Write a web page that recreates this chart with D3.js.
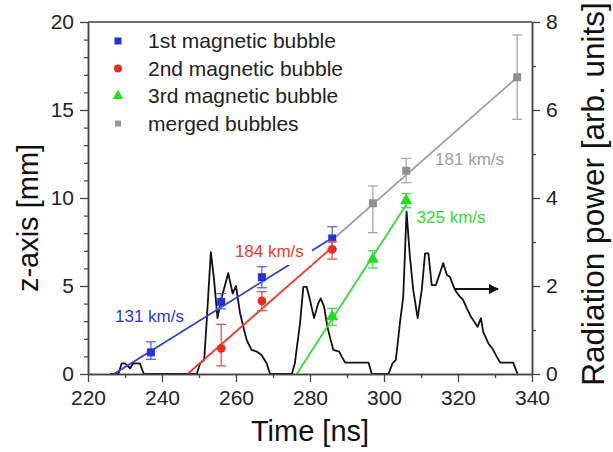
<!DOCTYPE html>
<html>
<head>
<meta charset="utf-8">
<script src="https://cdn.jsdelivr.net/npm/d3@7"></script>
<style>
  body { margin: 0; background: #fff; }
  svg text { font-family: "Liberation Sans", Arial, sans-serif; }
</style>
</head>
<body>
<svg id="chart" width="613" height="452"></svg>
<script>
// bubble positions (time in ns, z in mm, asymmetric error bars)
const blueT = [237, 256, 267, 286];
const blueZ = [1.23, 4.1, 5.5, 7.7];
const blueLo = [0.4, 0.4, 0.6, 0.6];
const blueHi = [0.6, 0.47, 0.6, 0.67];

const redT = [256, 267, 286];
const redZ = [1.46, 4.15, 7.08];
const redLo = [1.0, 0.55, 0.55];
const redHi = [1.36, 0.53, 0.45];

const greenT = [286, 297, 306];
const greenZ = [3.26, 6.52, 9.85];
const greenLo = [0.5, 0.5, 0.4];
const greenHi = [0.47, 0.48, 0.4];

const grayT = [297, 306, 336];
const grayZ = [9.7, 11.55, 16.86];
const grayLo = [1.67, 0.68, 2.39];
const grayHi = [0.98, 0.7, 2.4];

// linear fits, end points [t, z]
const blueFit = [[227, 0], [286, 7.73]];
const redFit = [[246.9, 0], [286, 7.2]];
const greenFit = [[276.4, 0], [306, 9.62]];
const grayFit = [[285.4, 7.5], [336, 16.86]];

// radiation power trace (right axis)
const radTime = [226, 228.2, 229.1, 230, 231.4, 232.2, 234.0, 235.1, 249.4, 250.3, 251.4, 252.1, 253.2, 254.0,
  255.0, 256.0, 257.9, 259.1, 260.0, 261.1, 262.0, 262.9, 264.2, 265.6, 266.9, 268.3, 269.2, 275.1, 275.9,
  277.3, 278.2, 279.1, 280.0, 281.1, 282.2, 282.9, 283.8, 284.7, 285.6, 286.3, 287.9, 288.6, 289.5, 295.8,
  296.7, 301.2, 302.3, 303.2, 304.3, 305.2, 306.1, 307.0, 307.9, 309.1, 310.2, 311.1, 312.0, 312.9, 314.0,
  315.1, 316.0, 317.0, 317.8, 319.2, 320.1, 321.4, 322.4, 323.5, 324.4, 325.3, 326.2, 326.8, 328.2, 329.5,
  330.5, 331.4, 334.9, 336.1];
const radPower = [0, 0, 0.24, 0.24, 0.13, 0.24, 0.24, 0, 0, 0.24, 0.32, 1.23, 2.77, 2.2,
  1.27, 1.7, 2.29, 1.83, 2.0, 1.38, 1.07, 0.77, 0.55, 0.51, 0.43, 0.24, 0, 0, 0.24,
  1.15, 1.98, 1.98, 1.68, 1.27, 1.6, 1.72, 1.53, 1.07, 0.77, 0.55, 0.51, 0.39, 0.26, 0.26,
  0, 0, 0.24, 0.32, 1.15, 1.76, 3.69, 2.67, 1.91, 1.27, 1.91, 2.74, 2.74, 2.02, 2.02,
  2.29, 2.52, 2.25, 2.21, 1.91, 1.8, 1.68, 1.49, 1.30, 1.19, 1.07, 1.27, 0.96, 0.7, 0.55,
  0.39, 0.26, 0.26, 0];

const arrowTime = [319.1, 330.8];
const arrowPower = 1.93;

const legendLabels = ['1st magnetic bubble', '2nd magnetic bubble', '3rd magnetic bubble', 'merged bubbles'];
const speedLabels = ['131 km/s', '184 km/s', '325 km/s', '181 km/s'];
const speedPos = [[227.3, 2.95], [259.7, 6.65], [308.8, 8.58], [313.8, 11.85]]; // label start [t, z]

const xTicks = [220, 240, 260, 280, 300, 320, 340];
const yTicks = [0, 5, 10, 15, 20];
const yRTicks = [0, 2, 4, 6, 8];

const svg = d3.select('#chart');
const pLeft = 88, pRight = 532, pTop = 22, pBottom = 374;

const x = d3.scaleLinear().domain([220, 340]).range([pLeft, pRight]);
const y = d3.scaleLinear().domain([0, 20]).range([pBottom, pTop]);
const yR = d3.scaleLinear().domain([0, 8]).range([pBottom, pTop]);

const axisColor = '#444';

// radiation trace
const radLine = d3.line().x(d => x(d[0])).y(d => yR(d[1]));
svg.append('path')
  .attr('d', radLine(radTime.map((t, i) => [t, radPower[i]])))
  .attr('fill', 'none')
  .attr('stroke', '#111')
  .attr('stroke-width', 1.8)
  .attr('stroke-linejoin', 'round');

// arrow pointing to right axis
svg.append('defs').append('marker')
  .attr('id', 'arr')
  .attr('viewBox', '0 0 10 10')
  .attr('refX', 9).attr('refY', 5)
  .attr('markerWidth', 5).attr('markerHeight', 5)
  .attr('orient', 'auto')
  .append('path').attr('d', 'M0,0 L10,5 L0,10 z').attr('fill', '#111');
svg.append('line')
  .attr('x1', x(arrowTime[0])).attr('x2', x(arrowTime[1]))
  .attr('y1', yR(arrowPower)).attr('y2', yR(arrowPower))
  .attr('stroke', '#111').attr('stroke-width', 2)
  .attr('marker-end', 'url(#arr)');

// fit lines
const fits = [
  { pts: blueFit, color: '#3040e0' },
  { pts: redFit, color: '#f03a2a' },
  { pts: greenFit, color: '#30dd30' },
  { pts: grayFit, color: '#a0a0a0' }
];
const fitLine = d3.line().x(d => x(d[0])).y(d => y(d[1]));
fits.forEach(f => {
  svg.append('path')
    .attr('d', fitLine(f.pts))
    .attr('fill', 'none')
    .attr('stroke', f.color)
    .attr('stroke-width', 1.8);
});

// speed labels
const speedColors = ['#2a3ad8', '#f03a2a', '#30dd30', '#a0a0a0'];
speedLabels.forEach((s, i) => {
  const g = svg.append('g');
  const t = g.append('text')
    .attr('x', x(speedPos[i][0]))
    .attr('y', y(speedPos[i][1]))
    .attr('font-size', 17)
    .attr('fill', speedColors[i])
    .text(s);
  if (i === 1) {
    const b = t.node().getBBox();
    g.insert('rect', 'text')
      .attr('x', b.x - 2).attr('y', b.y - 2)
      .attr('width', b.width + 10).attr('height', b.height + 6)
      .attr('fill', '#fff');
  }
});

// error bars and markers
const series = [
  { t: blueT, z: blueZ, lo: blueLo, hi: blueHi, color: '#2233dd', err: '#5566ee', shape: 'square' },
  { t: redT, z: redZ, lo: redLo, hi: redHi, color: '#ee2a1a', err: '#ee5544', shape: 'circle' },
  { t: greenT, z: greenZ, lo: greenLo, hi: greenHi, color: '#22dd22', err: '#44dd44', shape: 'triangle' },
  { t: grayT, z: grayZ, lo: grayLo, hi: grayHi, color: '#909090', err: '#aaaaaa', shape: 'square' }
];
const symbolType = { square: d3.symbolSquare, circle: d3.symbolCircle, triangle: d3.symbolTriangle };

series.forEach(s => {
  const g = svg.append('g');
  s.t.forEach((t, i) => {
    const cx = x(t), y1 = y(s.z[i] - s.lo[i]), y2 = y(s.z[i] + s.hi[i]);
    g.append('line').attr('x1', cx).attr('x2', cx).attr('y1', y1).attr('y2', y2)
      .attr('stroke', s.err).attr('stroke-width', 1.3);
    [y1, y2].forEach(yy => {
      g.append('line').attr('x1', cx - 5).attr('x2', cx + 5).attr('y1', yy).attr('y2', yy)
        .attr('stroke', s.err).attr('stroke-width', 1.3);
    });
    g.append('path')
      .attr('d', d3.symbol().type(symbolType[s.shape]).size(s.shape === 'circle' ? 60 : 64)())
      .attr('transform', `translate(${cx},${y(s.z[i])})`)
      .attr('fill', s.color);
  });
});

// axes
const bottomAxis = svg.append('g').attr('transform', `translate(0,${pBottom})`)
  .call(d3.axisBottom(x).tickValues(xTicks).tickSize(8).tickPadding(8).tickSizeOuter(0));
const bottomMinor = svg.append('g').attr('transform', `translate(0,${pBottom})`)
  .call(d3.axisBottom(x).tickValues(d3.range(230, 340, 20)).tickSize(4).tickFormat('').tickSizeOuter(0));
const leftAxis = svg.append('g').attr('transform', `translate(${pLeft},0)`)
  .call(d3.axisLeft(y).tickValues(yTicks).tickSize(8).tickPadding(6).tickSizeOuter(0));
const leftMinor = svg.append('g').attr('transform', `translate(${pLeft},0)`)
  .call(d3.axisLeft(y).tickValues(d3.range(1, 20, 1).filter(v => v % 5)).tickSize(4).tickFormat('').tickSizeOuter(0));
const rightAxis = svg.append('g').attr('transform', `translate(${pRight},0)`)
  .call(d3.axisRight(yR).tickValues(yRTicks).tickSize(8).tickPadding(6).tickSizeOuter(0));
const rightMinor = svg.append('g').attr('transform', `translate(${pRight},0)`)
  .call(d3.axisRight(yR).tickValues([1, 3, 5, 7]).tickSize(4).tickFormat('').tickSizeOuter(0));

[bottomAxis, bottomMinor, leftAxis, leftMinor, rightAxis, rightMinor].forEach(a => {
  a.selectAll('path.domain').attr('stroke', axisColor).attr('stroke-width', 1.5);
  a.selectAll('line').attr('stroke', axisColor).attr('stroke-width', 1.3);
  a.selectAll('text').attr('font-size', 21).attr('fill', '#222')
    .attr('font-family', '"Liberation Sans", Arial, sans-serif');
});

// top frame line
svg.append('line')
  .attr('x1', pLeft).attr('x2', pRight).attr('y1', pTop).attr('y2', pTop)
  .attr('stroke', axisColor).attr('stroke-width', 1.5);

// axis titles
svg.append('text')
  .attr('x', 310).attr('y', 441)
  .attr('text-anchor', 'middle').attr('font-size', 29).attr('fill', '#111')
  .text('Time [ns]');
svg.append('text')
  .attr('transform', 'translate(38,218) rotate(-90)')
  .attr('text-anchor', 'middle').attr('font-size', 29).attr('fill', '#111')
  .text('z-axis [mm]');
svg.append('text')
  .attr('transform', 'translate(604,194) rotate(-90)')
  .attr('text-anchor', 'middle').attr('font-size', 31.5).attr('fill', '#111')
  .text('Radiation power [arb. units]');

// legend
const legend = svg.append('g');
legendLabels.forEach((lab, i) => {
  const ly = 41 + i * 27.5;
  const s = series[i];
  legend.append('path')
    .attr('d', d3.symbol().type(symbolType[s.shape]).size(i === 3 ? 36 : 50)())
    .attr('transform', `translate(118,${ly})`)
    .attr('fill', i === 3 ? '#999' : s.color);
  legend.append('text')
    .attr('x', 148).attr('y', ly + 7)
    .attr('font-size', 21).attr('fill', '#222')
    .text(lab);
});
</script>
</body>
</html>
